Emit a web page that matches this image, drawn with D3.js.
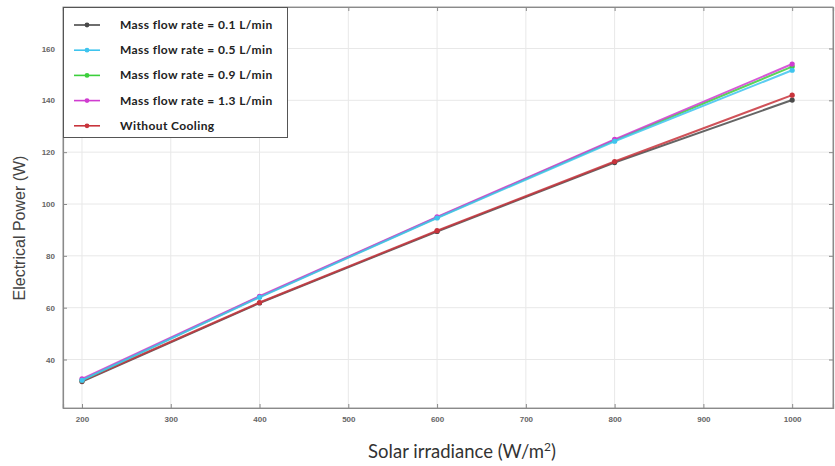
<!DOCTYPE html>
<html>
<head>
<meta charset="utf-8">
<script src="https://cdn.jsdelivr.net/npm/d3@7"></script>
<style>
  html, body { margin: 0; padding: 0; background: #fff; }
  svg { display: block; }
</style>
</head>
<body>
<svg id="chart" width="835" height="466"></svg>
<script>
// Irradiance levels (W/m²) and electrical power (W) per cooling case
const irradiance = [200, 400, 600, 800, 1000];
const seriesNames = [
  "Mass flow rate = 0.1 L/min",
  "Mass flow rate = 0.5 L/min",
  "Mass flow rate = 0.9 L/min",
  "Mass flow rate = 1.3 L/min",
  "Without Cooling"
];
const flow01 = [31.5, 61.8, 89.4, 116.0, 140.1];
const flow05 = [32.0, 64.0, 94.6, 124.2, 151.6];
const flow09 = [32.1, 64.2, 94.8, 124.6, 153.0];
const flow13 = [32.5, 64.4, 95.0, 124.9, 154.0];
const noCooling = [31.8, 62.0, 89.7, 116.4, 142.0];
const seriesColors = ["#4a4a4a", "#3fc4ee", "#3ccf3c", "#d03cd0", "#c8343c"];
const xTicks = [200, 300, 400, 500, 600, 700, 800, 900, 1000];
const yTicks = [40, 60, 80, 100, 120, 140, 160];

const allSeries = [flow01, flow05, flow09, flow13, noCooling];
// draw order: low-flow and uncooled first, then the high-flow cases on top
const drawOrder = [0, 4, 2, 3, 1];

const svg = d3.select("#chart");
const plot = { left: 63, top: 7, right: 833, bottom: 408 };

const x = d3.scaleLinear().domain([178.6, 1046]).range([plot.left, plot.right]);
const y = d3.scaleLinear().domain([21.3, 176]).range([plot.bottom, plot.top]);

// grid
const grid = svg.append("g");
grid.selectAll("line.vx").data(xTicks).join("line")
  .attr("x1", d => x(d)).attr("x2", d => x(d))
  .attr("y1", plot.top).attr("y2", plot.bottom)
  .attr("stroke", "#e8e8e8").attr("stroke-width", 1);
grid.selectAll("line.hy").data(yTicks).join("line")
  .attr("x1", plot.left).attr("x2", plot.right)
  .attr("y1", d => y(d)).attr("y2", d => y(d))
  .attr("stroke", "#e8e8e8").attr("stroke-width", 1);

// frame
svg.append("rect")
  .attr("x", plot.left).attr("y", plot.top)
  .attr("width", plot.right - plot.left).attr("height", plot.bottom - plot.top)
  .attr("fill", "none").attr("stroke", "#9a9a9a").attr("stroke-width", 1);

// axes
const fmt = d3.format("d");
svg.append("g")
  .attr("transform", `translate(0,${plot.bottom})`)
  .call(d3.axisBottom(x).tickValues(xTicks).tickFormat(fmt).tickSize(-4).tickPadding(8));
svg.append("g")
  .attr("transform", `translate(${plot.left},0)`)
  .call(d3.axisLeft(y).tickValues(yTicks).tickFormat(fmt).tickSize(-4).tickPadding(8));
svg.append("g")
  .attr("transform", `translate(0,${plot.top})`)
  .call(d3.axisTop(x).tickValues(xTicks).tickSize(-4).tickFormat(""));
svg.append("g")
  .attr("transform", `translate(${plot.right},0)`)
  .call(d3.axisRight(y).tickValues(yTicks).tickSize(-4).tickFormat(""));

svg.selectAll(".domain").attr("stroke", "#8a8a8a").attr("stroke-width", 1.2);
svg.selectAll(".tick line").attr("stroke", "#8a8a8a");
svg.selectAll(".tick text")
  .attr("fill", "#666").style("font-family", "Liberation Sans, Arial, sans-serif")
  .style("font-size", "8px").style("font-weight", "bold");

// lines
const line = d3.line().x((d, i) => x(irradiance[i])).y(d => y(d));
drawOrder.forEach(k => {
  const g = svg.append("g");
  g.append("path").datum(allSeries[k])
    .attr("d", line).attr("fill", "none")
    .attr("stroke", seriesColors[k]).attr("stroke-width", 2)
    .attr("stroke-opacity", 0.85);
  g.selectAll("circle").data(allSeries[k]).join("circle")
    .attr("cx", (d, i) => x(irradiance[i])).attr("cy", d => y(d))
    .attr("r", 2.6).attr("fill", seriesColors[k]);
});

// legend
const legend = svg.append("g");
legend.append("rect")
  .attr("x", 63.5).attr("y", 7.5).attr("width", 224).attr("height", 130)
  .attr("fill", "#fff").attr("stroke", "#555").attr("stroke-width", 1);
seriesNames.forEach((name, k) => {
  const ly = 25 + k * 25.2;
  legend.append("line")
    .attr("x1", 74).attr("x2", 100).attr("y1", ly).attr("y2", ly)
    .attr("stroke", seriesColors[k]).attr("stroke-width", 1.6);
  legend.append("circle").attr("cx", 87).attr("cy", ly).attr("r", 2.4)
    .attr("fill", seriesColors[k]);
  legend.append("text")
    .attr("x", 120).attr("y", ly + 4)
    .attr("fill", "#222")
    .style("font-family", "Lato, Open Sans, sans-serif")
    .style("font-size", "12px").style("font-weight", "bold")
    .style("letter-spacing", "0.4px")
    .text(name);
});

// axis titles
const xt = svg.append("text")
  .attr("x", 462).attr("y", 458)
  .attr("text-anchor", "middle")
  .attr("fill", "#333")
  .style("font-family", "Lato, Open Sans, sans-serif")
  .style("font-size", "18.5px");
xt.append("tspan").text("Solar irradiance (W/m");
xt.append("tspan").attr("dy", -7).style("font-size", "12px").text("2");
xt.append("tspan").attr("dy", 7).text(")");

svg.append("text")
  .attr("transform", "translate(25,228) rotate(-90)")
  .attr("text-anchor", "middle")
  .attr("fill", "#444")
  .style("font-family", "Liberation Sans, Arial, sans-serif")
  .style("font-size", "16px")
  .text("Electrical Power (W)");
</script>
</body>
</html>
